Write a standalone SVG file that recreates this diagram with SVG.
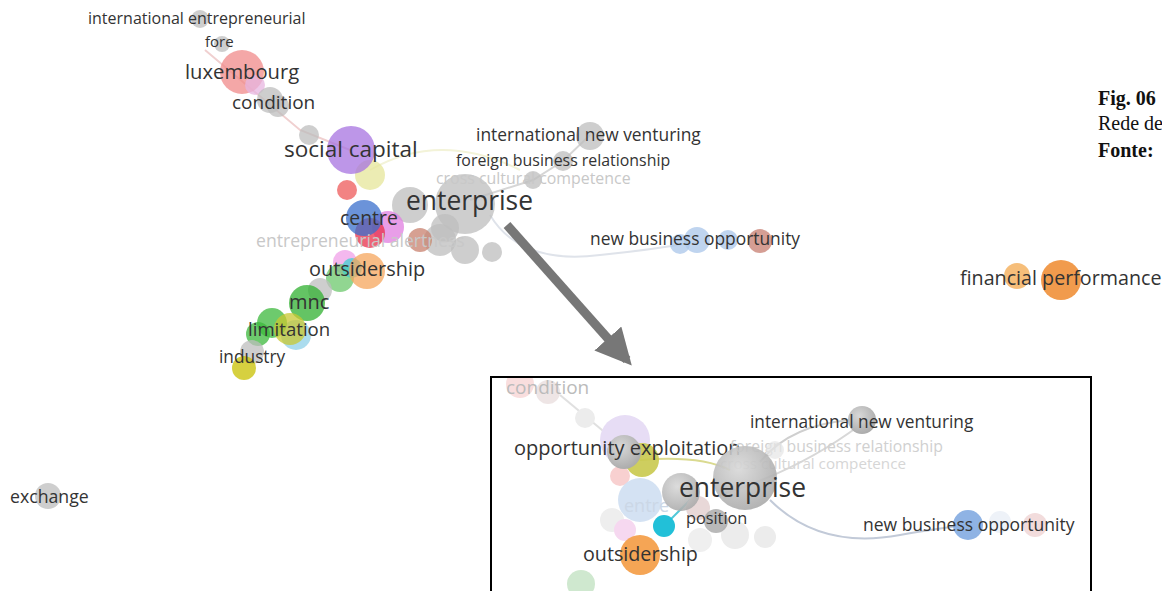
<svg xmlns="http://www.w3.org/2000/svg" width="1162" height="591" viewBox="0 0 1162 591">
<defs>
<radialGradient id="gG" cx="0.4" cy="0.35" r="0.7"><stop offset="0" stop-color="#d8d8d8"/><stop offset="1" stop-color="#a9a9a9"/></radialGradient>
<marker id="ah" viewBox="0 0 10 10" refX="8" refY="5" markerWidth="4" markerHeight="4" orient="auto"><path d="M0,0 L10,5 L0,10 z" fill="#777"/></marker>
<clipPath id="inset"><rect x="492" y="378" width="598" height="213"/></clipPath>
</defs>
<style>
text{font-family:"Open Sans","Liberation Sans",sans-serif;fill:#333}
.pale{fill:#c8c8c8}
.n{opacity:0.75}
.g{fill:#bdbdbd}
.fig{font-family:"Liberation Serif","DejaVu Serif",serif;fill:#111;font-size:20px}
.b{font-weight:bold}
.edge{fill:none;stroke-width:2}
</style>
<rect width="1162" height="591" fill="#fff"/>

<g id="connectors">
<path class="edge" d="M205,50 L300,130 L350,150" stroke="#f0d0d0" stroke-width="2"/>
<path class="edge" d="M370,170 Q440,130 520,170" stroke="#f3f3d8" stroke-width="2"/>
<path class="edge" d="M490,215 Q520,265 600,255 Q650,250 690,243" stroke="#dfe3ea" stroke-width="2"/>
<path class="edge" d="M470,200 L533,180 L563,161 L590,135" stroke="#d6d6d6" stroke-width="2"/>
<line x1="507" y1="225" x2="627" y2="360" stroke="#777" stroke-width="9" marker-end="url(#ah)"/>
</g>

<g id="node-international-entrepreneurial"><circle cx="200" cy="19" r="9" class="g n"/><text x="88" y="24" font-size="16">international entrepreneurial</text></g>
<g id="node-fore"><circle cx="222" cy="44" r="8" class="g n"/><text x="205" y="47" font-size="15">fore</text></g>
<g id="node-luxembourg"><circle cx="242" cy="72" r="22" fill="#f08a8a" class="n"/><circle cx="255" cy="85" r="10" fill="#e7b5e0" class="n"/><text x="185" y="79" font-size="20.2">luxembourg</text></g>
<g id="node-condition"><circle cx="270" cy="100" r="13" class="g n"/><circle cx="278" cy="106" r="11" class="g n"/><text x="232" y="109" font-size="19">condition</text></g>
<g id="node-small1"><circle cx="309" cy="135" r="10" class="g n"/></g>
<g id="node-social-capital"><circle cx="370" cy="175" r="15" fill="#e6e69a" class="n"/><circle cx="351" cy="150" r="24" fill="#a773e0" class="n"/><text x="284" y="157" font-size="22.5">social capital</text></g>
<g id="node-red"><circle cx="347" cy="190" r="10" fill="#ee5a5a" class="n"/></g>
<g id="node-enterprise">
<circle cx="410" cy="205" r="18" class="g n"/>
<circle cx="465" cy="204" r="30" class="g n"/>
<circle cx="440" cy="240" r="16" class="g n"/>
<circle cx="465" cy="250" r="14" class="g n"/>
<circle cx="492" cy="252" r="10" class="g n"/>
<circle cx="445" cy="228" r="14" class="g n"/>
<text x="406" y="210" font-size="26.4">enterprise</text></g>
<g id="node-brown"><circle cx="420" cy="240" r="12" fill="#c8806e" class="n"/></g>
<g id="node-centre"><circle cx="388" cy="227" r="16" fill="#e07ee0" class="n"/><circle cx="370" cy="233" r="15" fill="#e8304a" class="n"/><circle cx="364" cy="218" r="18" fill="#3a6fcc" class="n"/><text x="340" y="225" font-size="19.4">centre</text></g>
<g id="node-entrepreneurial-alertness"><text x="256" y="247" font-size="17.6" class="pale">entrepreneurial alertness</text></g>
<g id="node-cross-cultural"><circle cx="533" cy="180" r="9" class="g n"/><text x="436" y="184" font-size="15.9" class="pale">cross cultural competence</text></g>
<g id="node-foreign-business"><circle cx="563" cy="161" r="10" class="g n"/><text x="456" y="166" font-size="15.9">foreign business relationship</text></g>
<g id="node-international-new-venturing"><circle cx="590" cy="136" r="14" class="g n"/><text x="476" y="141" font-size="17.4">international new venturing</text></g>
<g id="node-outsidership"><circle cx="345" cy="262" r="12" fill="#f0a0e8" class="n"/><circle cx="340" cy="278" r="14" fill="#6cc86c" class="n"/><circle cx="352" cy="268" r="10" fill="#40d0d0" class="n"/><circle cx="367" cy="271" r="18" fill="#f5a55c" class="n"/><text x="309" y="276" font-size="19.9">outsidership</text></g>
<g id="node-mnc"><circle cx="320" cy="290" r="12" class="g n"/><circle cx="307" cy="303" r="18" fill="#30b030" class="n"/><text x="289" y="309" font-size="20">mnc</text></g>
<g id="node-limitation"><circle cx="296" cy="335" r="15" fill="#8fd0e8" class="n"/><circle cx="272" cy="323" r="15" fill="#3cb83c" class="n"/><circle cx="258" cy="334" r="12" fill="#3cb83c" class="n"/><circle cx="290" cy="329" r="16" fill="#c8c832" class="n"/><text x="248" y="336" font-size="18.6">limitation</text></g>
<g id="node-industry"><circle cx="252" cy="352" r="12" class="g n"/><circle cx="244" cy="368" r="12" fill="#c8c000" class="n"/><text x="219" y="363" font-size="17.3">industry</text></g>
<g id="node-new-business-opportunity"><circle cx="680" cy="244" r="10" fill="#a9c6ea" class="n"/><circle cx="697" cy="240" r="13" fill="#a9c6ea" class="n"/><circle cx="728" cy="240" r="10" fill="#a9c6ea" class="n"/><circle cx="760" cy="241" r="12" fill="#c77e70" class="n"/><text x="590" y="245" font-size="17.4">new business opportunity</text></g>
<g id="node-financial-performance"><circle cx="1017" cy="276" r="13" fill="#f3a84e" class="n"/><circle cx="1061" cy="280" r="20" fill="#ec7a12" class="n"/><text x="960" y="285" font-size="19.7">financial performance</text></g>
<g id="node-exchange"><circle cx="48" cy="496" r="13" class="g n"/><text x="10" y="503" font-size="17.7">exchange</text></g>

<g id="caption">
<text x="1098" y="105" class="fig b">Fig. 06</text>
<text x="1098" y="130" class="fig">Rede de</text>
<text x="1098" y="157" class="fig b">Fonte:</text>
</g>

<g id="inset-view" clip-path="url(#inset)">
<rect x="492" y="378" width="598" height="213" fill="#fff"/>
<g id="inset-connectors">
<path class="edge" d="M760,462 Q790,425 850,420" stroke="#cfcfcf"/>
<path class="edge" d="M720,495 Q800,470 860,425" stroke="#d8d8d8"/>
<path class="edge" d="M770,500 Q820,550 900,535 Q940,528 960,526" stroke="#c2cad8"/>
<path class="edge" d="M640,460 Q700,455 730,470" stroke="#dada90"/>
<path class="edge" d="M560,395 L620,445" stroke="#e0e0e0"/>
<path class="edge" d="M664,526 L690,500" stroke="#50c8d8" stroke-width="3"/>
</g>
<g id="inset-condition"><circle cx="520" cy="384" r="14" fill="#f7d6d6" opacity="0.8"/><circle cx="548" cy="392" r="12" fill="#eadede" opacity="0.8"/><circle cx="585" cy="418" r="10" fill="#ececec"/><text x="506" y="394" font-size="19" style="fill:#bbb">condition</text></g>
<g id="inset-faint">
<circle cx="620" cy="476" r="10" fill="#f8d0d0"/>
<circle cx="640" cy="500" r="22" fill="#cfdff2" opacity="0.9"/>
<circle cx="612" cy="520" r="12" fill="#eee"/>
<circle cx="625" cy="530" r="11" fill="#f6d8f0"/>
<circle cx="735" cy="535" r="14" fill="#ececec"/>
<circle cx="765" cy="537" r="11" fill="#ececec"/>
<circle cx="700" cy="540" r="12" fill="#efefef"/>
<circle cx="698" cy="508" r="12" fill="#e8d8d8"/>
<circle cx="581" cy="584" r="14" fill="#cfe8cf"/>
<text x="624" y="512" font-size="18" style="fill:#cbd7e6">entre</text>
</g>
<g id="inset-opportunity-exploitation"><circle cx="625" cy="440" r="25" fill="#e7ddf5"/><circle cx="642" cy="460" r="17" fill="#c9c94e" opacity="0.9"/><circle cx="624" cy="452" r="17" fill="url(#gG)"/><text x="514" y="455" font-size="20">opportunity exploitation</text></g>
<g id="inset-foreign"><text x="730" y="452" font-size="15.8" style="fill:#d0d0d0">foreign business relationship</text><circle cx="775" cy="450" r="9" fill="#e5e5e5" opacity="0.7"/></g>
<g id="inset-cross"><text x="720" y="469" font-size="15.2" style="fill:#d6d6d6">cross cultural competence</text></g>
<g id="inset-enterprise"><circle cx="745" cy="478" r="32" fill="url(#gG)" opacity="0.9"/><circle cx="681" cy="492" r="19" fill="url(#gG)" opacity="0.9"/><text x="679" y="497" font-size="26.4">enterprise</text></g>
<g id="inset-international-new-venturing"><circle cx="862" cy="420" r="14" fill="url(#gG)"/><text x="750" y="428" font-size="17.3">international new venturing</text></g>
<g id="inset-position"><circle cx="716" cy="521" r="12" fill="#a8a8a8" opacity="0.8"/><text x="686" y="524" font-size="16.3">position</text></g>
<g id="inset-cyan"><circle cx="664" cy="526" r="11" fill="#22c0d8"/></g>
<g id="inset-outsidership"><circle cx="640" cy="555" r="20" fill="#f5a555"/><text x="583" y="561" font-size="19.7">outsidership</text></g>
<g id="inset-new-business-opportunity"><circle cx="1000" cy="522" r="11" fill="#eef2f8"/><circle cx="1035" cy="525" r="12" fill="#f2dcdc"/><circle cx="968" cy="525" r="15" fill="#8fb3e4"/><text x="863" y="531" font-size="17.5">new business opportunity</text></g>
</g>
<rect x="491" y="377" width="600" height="216" fill="none" stroke="#000" stroke-width="2"/>
</svg>
